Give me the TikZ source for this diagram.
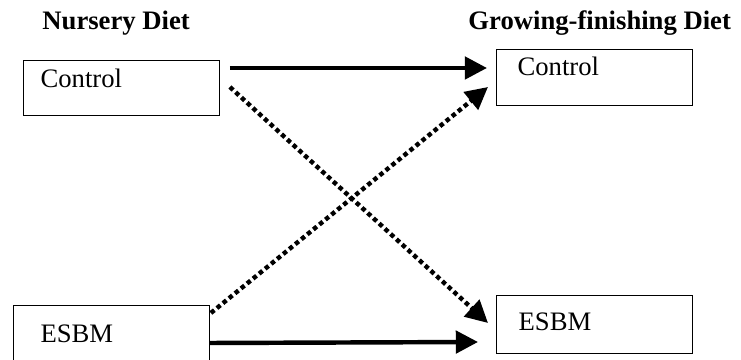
\documentclass[tikz,border=0pt]{standalone}
\usepackage{fontspec}
\setmainfont{Liberation Serif}
\usetikzlibrary{arrows.meta,calc}
\tikzset{
  dietbox/.style={draw, line width=0.6pt, anchor=north west, inner sep=0pt, text width=88pt, align=left, font=\fontsize{12}{14}\selectfont},
  heading/.style={anchor=base west, inner sep=0pt, font=\fontsize{12}{14}\selectfont\bfseries},
  solidarrow/.style={line width=2pt, -{Triangle[length=10pt,width=10pt]}},
  dotarrow/.style={line width=2pt, dash pattern=on 2pt off 1.5pt, -{Triangle[length=10pt,width=10pt]}}
}
\begin{document}
\begin{tikzpicture}[x=0.45pt,y=-0.45pt]
            \clip (0,0) rectangle (741,360);
            \node[heading] (nurHead) at (42,30) {Nursery Diet};
            \node[heading] (gfHead) at (468,30) {Growing-finishing Diet};
            \node[dietbox, text height=12.15pt, text depth=12.6pt] (nurCtrl) at (23,60) {\hspace*{7.6pt}Control};
            \node[dietbox, text height=16.65pt, text depth=11.25pt] (nurEsbm) at (13,305) {\hspace*{12.1pt}ESBM};
            \node[dietbox, text height=11.7pt, text depth=13.5pt] (gfCtrl) at (496,49) {\hspace*{9.4pt}Control};
            \node[dietbox, text height=15.75pt, text depth=10.35pt] (gfEsbm) at (496,295) {\hspace*{9.9pt}ESBM};
            \draw[solidarrow] ($(nurCtrl.north east)+(10,8)$) -- ($(gfCtrl.north west)+(-9,19)$);
            \draw[dotarrow] ($(nurCtrl.north east)+(10,27)$) -- ($(gfEsbm.north west)+(-8,28)$);
            \draw[dotarrow] ($(nurEsbm.north east)+(1,8)$) -- ($(gfCtrl.north west)+(-8,38)$);
            \draw[solidarrow] ($(nurEsbm.north east)+(0,38)$) -- ($(gfEsbm.north west)+(-18,47)$);
        \end{tikzpicture}
\end{document}
